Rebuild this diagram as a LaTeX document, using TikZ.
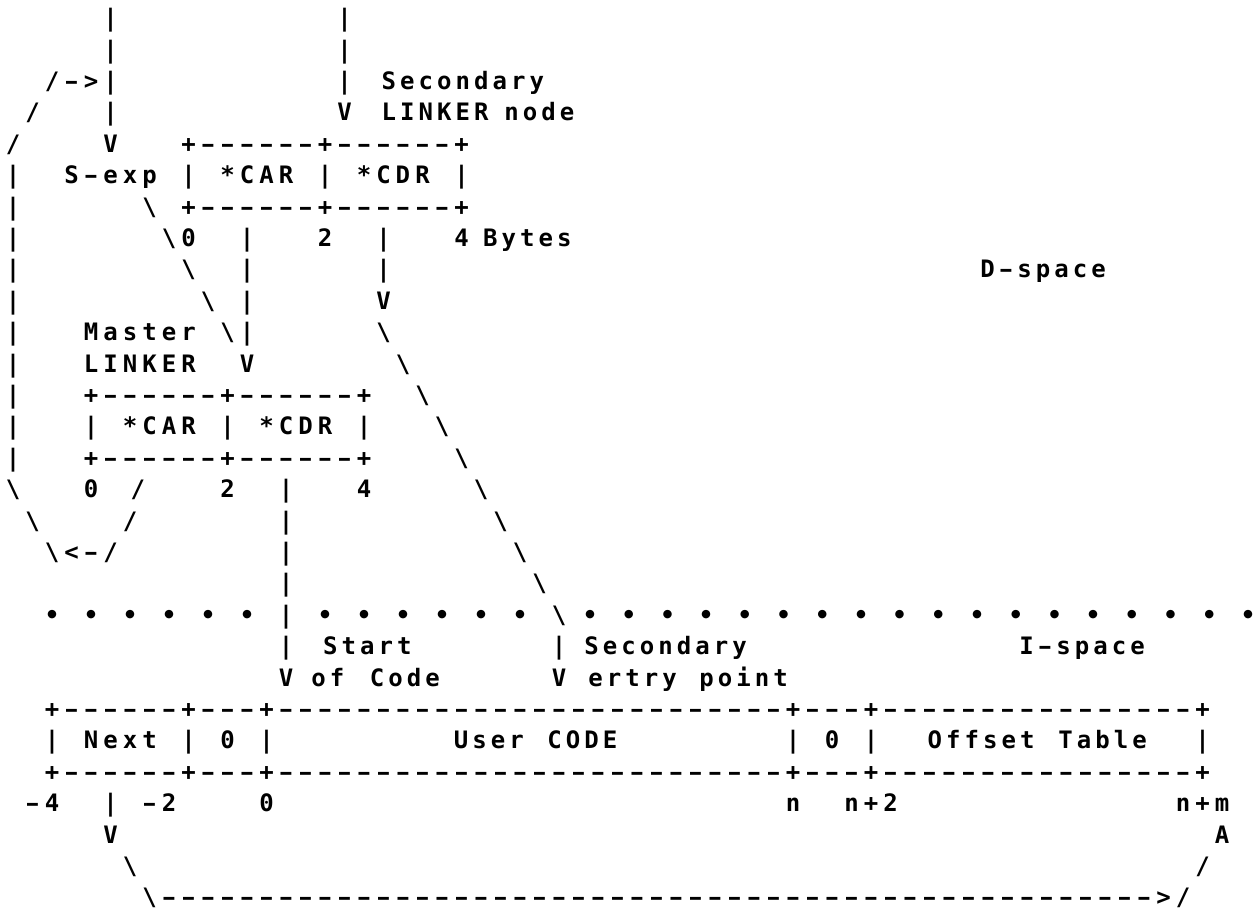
\documentclass[tikz,border=0pt]{standalone}
\usepackage{fontspec}
\usepackage{graphicx}
\usetikzlibrary{positioning}
\newfontfamily\asciifont{DejaVu Sans Mono}
\newcommand{\ascfont}{\asciifont\bfseries\fontsize{12pt}{14pt}\selectfont}
\newlength{\colw}
\setlength{\colw}{9.75pt}
\makeatletter
\def\blank{_}
\def\hyph{-}
\newcommand{\spc}[1]{\@tfor\next:=#1\do{\hbox to\colw{\hss\ifx\next\blank\else\ifx\next\hyph\scalebox{0.75}[1]{–}\else\next\fi\fi\hss}}}
\makeatother
\newcommand{\bs}{\textbackslash}
\tikzstyle{ascii} = [inner sep=0pt, outer sep=0pt, anchor=base west, font=\ascfont]
\tikzstyle{word} = [ascii, font={\ascfont\setlength{\colw}{9.25pt}}]
\tikzstyle{dots} = [ascii, font={\ascfont\setlength{\colw}{9.675pt}}]

\begin{document}
\begin{tikzpicture}
\useasboundingbox (0,0) rectangle (627.5pt,-458pt);
\begin{scope}[x=9.75pt, y=-15.7pt, shift={(0.167,0.85)}]
% D-space: the two LINKER nodes
\node [ascii] (row0) at (5,0) {\spc{|___________|}};
\node [ascii] (row1) at (5,1) {\spc{|___________|}};
\node [ascii] (row2) at (2,2) {\spc{/->|___________|}};
\node [word] (secnd) at (19.3,2) {\spc{Secondary}};
\node [ascii] (row3) at (1,3) {\spc{/___|___________V}};
\node [word] (linker) at (19.3,3) {\spc{LINKER}};
\node [word] (lnode) at (25.6,3) {\spc{node}};
\node [ascii] (row4) at (0,4) {\spc{/____V___+------+------+}};
\node [ascii] (row5) at (0,5) {\spc{|__S-exp_|_*CAR_|_*CDR_|}};
\node [ascii] (row6) at (0,6) {\spc{|______\bs_+------+------+}};
\node [ascii] (row7) at (0,7) {\spc{|_______\bs0__|___2__|___4}};
\node [word] (bytes) at (24.5,7) {\spc{Bytes}};
\node [ascii] (row8) at (0,8) {\spc{|________\bs__|______|}};
\node [word] (dspace) at (50,8) {\spc{D-space}};
\node [ascii] (row9) at (0,9) {\spc{|_________\bs_|______V}};
\node [ascii] (row10) at (0,10) {\spc{|___Master_\bs|______\bs}};
\node [ascii] (row11) at (0,11) {\spc{|___LINKER__V_______\bs}};
\node [ascii] (row12) at (0,12) {\spc{|___+------+------+__\bs}};
\node [ascii] (row13) at (0,13) {\spc{|___|_*CAR_|_*CDR_|___\bs}};
\node [ascii] (row14) at (0,14) {\spc{|___+------+------+____\bs}};
\node [ascii] (row15) at (0,15) {\spc{\bs___0______2__|___4_____\bs}};
\node [ascii] (slash15) at (6.4,15) {\spc{/}};
\node [ascii] (row16) at (1,16) {\spc{\bs____/_______|__________\bs}};
\node [ascii] (row17) at (2,17) {\spc{\bs<-/________|___________\bs}};
\node [ascii] (row18) at (14,18) {\spc{|____________\bs}};
% boundary between D-space and I-space
\node [ascii] (row19) at (2,19) {\spc{•_•_•_•_•_•_|_•_•_•_•_•_•_\bs}};
\node [dots] (dots19) at (29.6,19) {\spc{•_•_•_•_•_•_•_•_•_•_•_•_•_•_•_•_•_•}};
% I-space: the code block
\node [ascii] (row20) at (14,20) {\spc{|_____________|}};
\node [word] (start) at (16.3,20) {\spc{Start}};
\node [word] (secnd2) at (29.7,20) {\spc{Secondary}};
\node [word] (ispace) at (52,20) {\spc{I-space}};
\node [ascii] (row21) at (14,21) {\spc{V_____________V}};
\node [word] (of) at (15.7,21) {\spc{of}};
\node [word] (code) at (18.7,21) {\spc{Code}};
\node [word] (ertry) at (29.9,21) {\spc{ertry}};
\node [word] (point) at (35.6,21) {\spc{point}};
\node [ascii] (row22) at (2,22) {\spc{+------+---+--------------------------+---+----------------+}};
\node [ascii] (row23) at (2,23) {\spc{|_Next_|_0_|__________________________|_0_|________________|}};
\node [word] (user) at (23,23) {\spc{User}};
\node [word] (ucode) at (27.8,23) {\spc{CODE}};
\node [word] (offset) at (47.3,23) {\spc{Offset}};
\node [word] (table) at (54,23) {\spc{Table}};
\node [ascii] (row24) at (2,24) {\spc{+------+---+--------------------------+---+----------------+}};
\node [ascii] (row25) at (1,25) {\spc{-4__|_-2____0__________________________n__n+2______________n+m}};
\node [ascii] (row26a) at (5,26) {\spc{V}};
\node [ascii] (row26b) at (62,26) {\spc{A}};
\node [ascii] (row27a) at (6,27) {\spc{\bs}};
\node [ascii] (row27b) at (61,27) {\spc{/}};
\node [ascii] (row28) at (7,28) {\spc{\bs--------------------------------------------------->/}};
\end{scope}
\end{tikzpicture}
\end{document}
